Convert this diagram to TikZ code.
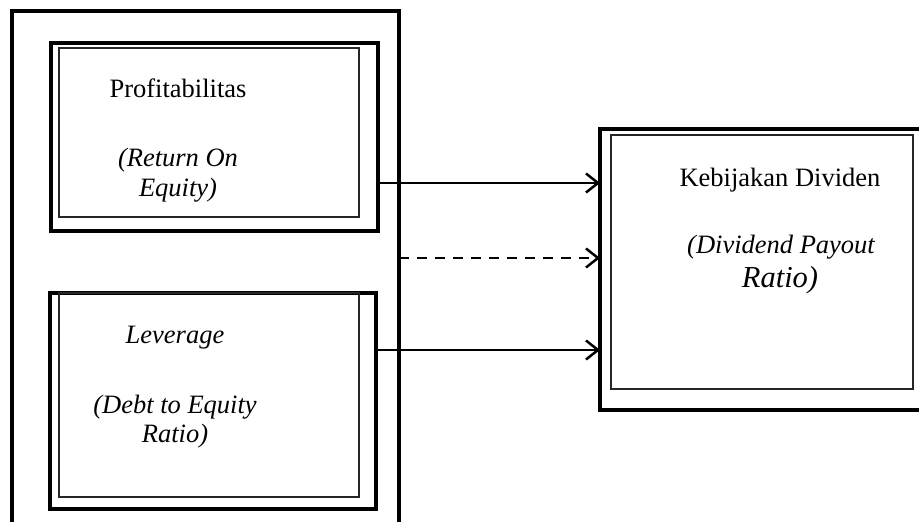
\documentclass[tikz,border=0pt]{standalone}
\usepackage{fontspec}
\setmainfont{Liberation Serif}
\usetikzlibrary{arrows.meta}
\begin{document}
\begin{tikzpicture}[x=1pt,y=-1pt,
  thickbox/.style={draw,rectangle,line width=3.6pt,inner sep=0pt,outer sep=0pt},
  thinbox/.style={draw=black!85,rectangle,line width=1.2pt,inner sep=0pt,outer sep=0pt},
  lbl/.style={anchor=base,inner sep=0pt,font=\fontsize{26.5}{30}\selectfont},
  ilbl/.style={anchor=base,inner sep=0pt,font=\fontsize{26.5}{30}\selectfont\itshape},
  bigilbl/.style={anchor=base,inner sep=0pt,font=\fontsize{30.5}{34}\selectfont\itshape},
  arr/.style={line width=2.5pt,-{Straight Barb[length=12pt,width=19pt,line width=2.5pt]}},
  dasharr/.style={arr,dash pattern=on 10pt off 8pt}]
\useasboundingbox (0,0) rectangle (919,522);
\clip (0,0) rectangle (919,522);
% outer frame (extends below the picture)
\node[thickbox,minimum width=387pt,minimum height=529pt] (outer) at (205.5,275.5) {};
% Profitabilitas
\node[thickbox,minimum width=327pt,minimum height=188pt] (b1o) at (214.5,137) {};
\node[thinbox,minimum width=300pt,minimum height=169pt] (b1i) at (209,132.5) {};
\node[lbl] (t1a) at (178,97) {Profitabilitas};
\node[ilbl] (t1b) at (178,166) {(Return On};
\node[ilbl] (t1c) at (178,196) {Equity)};
% Leverage
\node[thickbox,minimum width=326pt,minimum height=216pt] (b2o) at (213,401) {};
\node[thinbox,minimum width=300pt,minimum height=204pt] (b2i) at (209,395) {};
\node[ilbl] (t2a) at (175,343) {Leverage};
\node[ilbl] (t2b) at (175,413) {(Debt to Equity};
\node[ilbl] (t2c) at (175,442) {Ratio)};
% Kebijakan Dividen (extends past right edge)
\node[thickbox,minimum width=335pt,minimum height=281pt] (b3o) at (767.5,269.5) {};
\node[thinbox,minimum width=302pt,minimum height=254pt] (b3i) at (762,262) {};
\node[lbl] (t3a) at (780,186) {Kebijakan Dividen};
\node[ilbl] (t3b) at (781,253) {(Dividend Payout};
\node[bigilbl] (t3c) at (780,287) {Ratio)};
% connectors
\draw[arr] ([yshift=-46pt]b1o.east) coordinate (s1) -- (s1 -| b3o.west);
\draw[dasharr] ([yshift=17.5pt]outer.east) coordinate (s2) -- (s2 -| b3o.west);
\draw[arr] ([yshift=51pt]b2o.east) coordinate (s3) -- (s3 -| b3o.west);
\end{tikzpicture}
\end{document}
